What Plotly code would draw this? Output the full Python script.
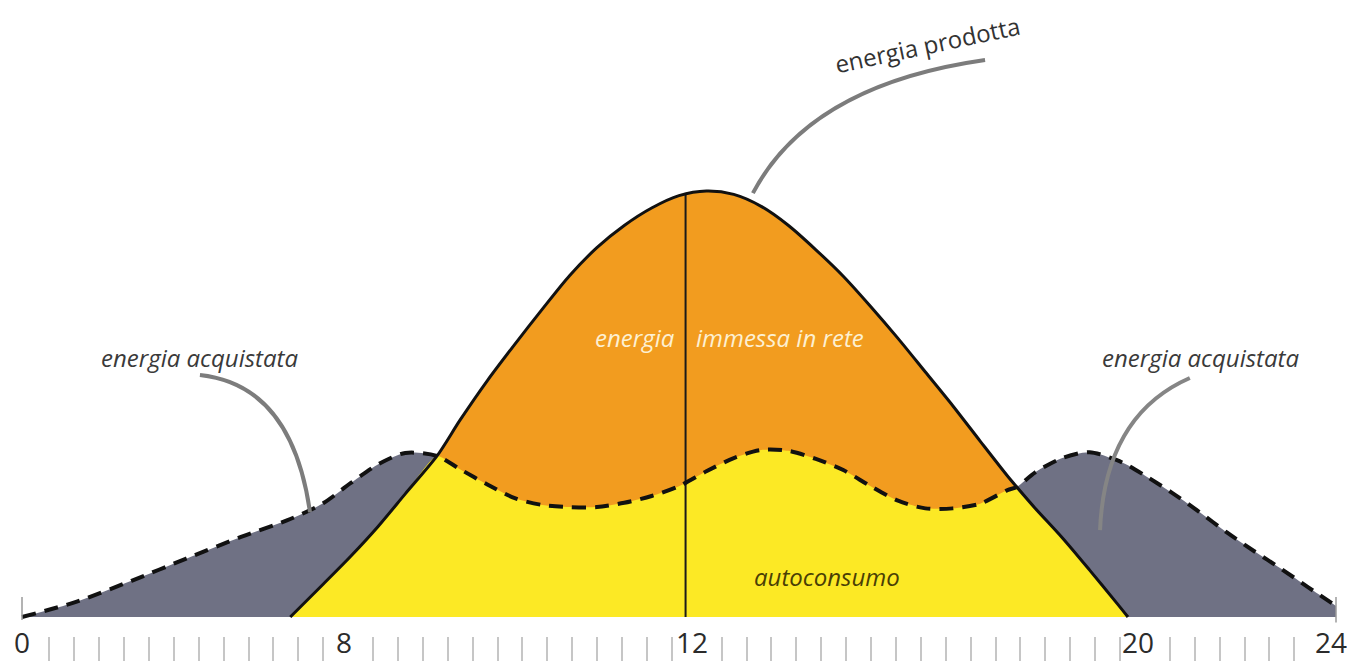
import numpy as np
import plotly.graph_objects as go

# ---- data (hours of the day, arbitrary power units; production peak = 100) ----
hours = [0, 1, 2, 3, 4, 4.9, 5.5, 6, 6.5, 7, 7.58, 8, 8.5, 9, 9.5, 10, 10.5, 11, 11.5,
         12, 12.5, 13, 13.5, 14, 14.5, 15, 15.5, 16, 16.5, 17, 17.5, 18, 18.17, 18.5,
         19, 19.5, 20, 20.2, 20.5, 21, 21.5, 22, 22.5, 23, 23.5, 24]

consumption = [0, 3.6, 8.5, 13.7, 18.8, 23.0, 26.7, 31.4, 35.8, 38.5, 37.8, 34.7, 31.1,
               27.9, 26.3, 25.8, 25.8, 26.8, 28.4, 30.7, 34.2, 37.3, 39.2, 39.0, 37.1,
               34.5, 30.7, 27.3, 25.5, 25.5, 26.6, 29.8, 30.5, 33.9, 37.3, 38.7, 36.8,
               35.6, 33.3, 29.2, 24.7, 19.9, 15.5, 11.3, 6.9, 2.6]

production = [None, None, None, None, None, 0, 7.7, 14.2, 21.2, 28.9, 37.8, 46.2, 55.5,
              64.0, 72.2, 80.1, 86.7, 91.9, 96.0, 98.9, 100, 99.2, 96.4, 91.9, 86.2,
              80.0, 72.9, 65.4, 57.5, 49.6, 41.3, 33.1, 30.5, 25.6, 18.6, 11.0, 3.2, 0,
              None, None, None, None, None, None, None, None]

tick_label_hours = [0, 5.88, 12.24, 20.38, 23.9]
tick_label_text = ["0", "8", "12", "20", "24"]
noon_marker_hour = 12.12

# ---- derived series ----
h = np.array(hours, dtype=float)
cons = np.array(consumption, dtype=float)
mask = np.array([p is not None for p in production])
hp = h[mask]
prod = np.array([p for p in production if p is not None], dtype=float)
self_use = np.minimum(prod, cons[mask])

GREY = "#6f7184"
ORANGE = "#f29c1f"
YELLOW = "#fce925"

fig = go.Figure()

# energia acquistata (area under consumption)
fig.add_trace(go.Scatter(x=h, y=cons, mode="lines", line=dict(width=0, shape="spline", smoothing=0.8),
                         fill="tozeroy", fillcolor=GREY, hoverinfo="skip", showlegend=False))
# energia prodotta / immessa in rete
fig.add_trace(go.Scatter(x=hp, y=prod, mode="lines", line=dict(width=0, shape="spline", smoothing=0.8),
                         fill="tozeroy", fillcolor=ORANGE, hoverinfo="skip", showlegend=False))
# autoconsumo
fig.add_trace(go.Scatter(x=hp, y=self_use, mode="lines", line=dict(width=0, shape="spline", smoothing=0.6),
                         fill="tozeroy", fillcolor=YELLOW, hoverinfo="skip", showlegend=False))
# noon vertical line
noon_val = float(np.interp(noon_marker_hour, hp, prod))
fig.add_trace(go.Scatter(x=[noon_marker_hour, noon_marker_hour], y=[0, noon_val], mode="lines",
                         line=dict(color="#1a1a1a", width=2), hoverinfo="skip", showlegend=False))
# production outline
fig.add_trace(go.Scatter(x=hp, y=prod, mode="lines",
                         line=dict(color="#111111", width=3, shape="spline", smoothing=0.8),
                         hoverinfo="skip", showlegend=False))
# consumption dashed outline
fig.add_trace(go.Scatter(x=h, y=cons, mode="lines",
                         line=dict(color="#111111", width=4, dash="14px,9px", shape="spline", smoothing=0.8),
                         hoverinfo="skip", showlegend=False))

# ---- pixel-like scale setup ----
PX_PER_H = 54.75
PX_PER_U = 4.26
X0_PX, BASE_PX, W, H = 22, 617, 1347, 661
xr = [(0 - X0_PX) / PX_PER_H, (W - X0_PX) / PX_PER_H]
yr = [(BASE_PX - H) / PX_PER_U, BASE_PX / PX_PER_U]

annotations = []
for xv, t in zip(tick_label_hours, tick_label_text):
    annotations.append(dict(x=xv, y=-5.9, xref="x", yref="y", text=t, showarrow=False,
                            font=dict(family="Open Sans", size=28, color="#2b2b2b"),
                            bgcolor="white", borderpad=0, xanchor="center", yanchor="middle"))

annotations += [
    dict(x=11.96, y=65.7, text="energia", xanchor="right", yanchor="middle", showarrow=False,
         font=dict(family="Open Sans", size=24, color="#fdf0d2", style="italic")),
    dict(x=12.27, y=65.7, text="immessa in rete", xanchor="left", yanchor="middle", showarrow=False,
         font=dict(family="Open Sans", size=24, color="#fdf0d2", style="italic")),
    dict(x=14.70, y=9.4, text="autoconsumo", xanchor="center", yanchor="middle", showarrow=False,
         font=dict(family="Open Sans", size=24, color="#4a3f05", style="italic")),
    dict(x=3.25, y=61.0, text="energia acquistata", xanchor="center", yanchor="middle", showarrow=False,
         font=dict(family="Open Sans", size=24, color="#3a3a3a", style="italic")),
    dict(x=21.52, y=61.0, text="energia acquistata", xanchor="center", yanchor="middle", showarrow=False,
         font=dict(family="Open Sans", size=24, color="#3a3a3a", style="italic")),
    dict(x=16.54, y=134.5, text="energia prodotta", xanchor="center", yanchor="middle", showarrow=False,
         textangle=-12, font=dict(family="Open Sans", size=24, color="#333333")),
]

shapes = [
    # leader strokes
    dict(type="path", xref="x", yref="y", path="M 13.35,99.5 Q 14.39,124.9 17.59,130.75",
         line=dict(color="#7c7c7c", width=4)),
    dict(type="path", xref="x", yref="y", path="M 3.25,56.8 Q 4.93,54.46 5.26,24.6",
         line=dict(color="#7c7c7c", width=4)),
    dict(type="path", xref="x", yref="y", path="M 21.33,56.1 Q 19.78,47.4 19.69,20.4",
         line=dict(color="#858585", width=4)),
    # end markers of the time axis
    dict(type="line", xref="x", yref="y", x0=0, x1=0, y0=-0.7, y1=4.7,
         line=dict(color="#9a9a9a", width=1.5)),
    dict(type="line", xref="x", yref="y", x0=24, x1=24, y0=-3.5, y1=4.7,
         line=dict(color="#9a9a9a", width=1.5)),
]

fig.update_layout(
    width=W, height=H,
    margin=dict(l=0, r=0, t=0, b=0),
    paper_bgcolor="white", plot_bgcolor="white",
    xaxis=dict(range=xr, showgrid=False, zeroline=False, showline=False,
               ticks="inside", ticklen=24, tickwidth=1.5, tickcolor="#c6c6c6",
               tickmode="linear", tick0=0.4986, dtick=0.4548, showticklabels=False,
               fixedrange=True),
    yaxis=dict(range=yr, visible=False, fixedrange=True),
    annotations=annotations,
    shapes=shapes,
    showlegend=False,
)

fig.write_html("out.html",
               config={"displayModeBar": False},
               post_script="document.body.style.margin='0';document.body.style.overflow='hidden';")
